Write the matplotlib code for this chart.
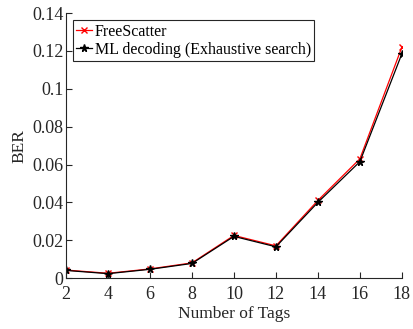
import matplotlib
matplotlib.use("Agg")
import matplotlib.pyplot as plt

num_tags = [2, 4, 6, 8, 10, 12, 14, 16, 18]
ber_freescatter = [0.0042, 0.0025, 0.0048, 0.0080, 0.0225, 0.0170, 0.0410, 0.0630, 0.1220]
ber_ml = [0.0040, 0.0023, 0.0046, 0.0077, 0.0220, 0.0165, 0.0400, 0.0615, 0.1185]
x_ticks = [2, 4, 6, 8, 10, 12, 14, 16, 18]
y_ticks = [0, 0.02, 0.04, 0.06, 0.08, 0.1, 0.12, 0.14]
y_tick_labels = ["0", "0.02", "0.04", "0.06", "0.08", "0.1", "0.12", "0.14"]

plt.rcParams["font.family"] = ["Liberation Serif", "DejaVu Serif"]
axis_color = "#262626"

fig = plt.figure(figsize=(4.13, 3.29), dpi=100)
ax = fig.add_axes([0.160, 0.155, 0.813, 0.805])

ax.plot(num_tags, ber_freescatter, color="red", marker="x", markersize=4,
        markeredgewidth=1.0, linewidth=0.9, label="FreeScatter")
ax.plot(num_tags, ber_ml, color="black", marker="*", markersize=5.5,
        linewidth=0.9, label="ML decoding (Exhaustive search)")

ax.set_xlim(2, 18)
ax.set_ylim(0, 0.14)
ax.set_xticks(x_ticks)
ax.set_yticks(y_ticks)
ax.set_yticklabels(y_tick_labels)

for side in ("top", "right"):
    ax.spines[side].set_visible(False)
for side in ("left", "bottom"):
    ax.spines[side].set_color(axis_color)
    ax.spines[side].set_linewidth(0.8)
ax.tick_params(direction="in", length=4, width=0.8, color=axis_color,
               labelsize=13, labelcolor=axis_color)
ax.tick_params(axis="x", pad=6)
ax.tick_params(axis="y", pad=2)

ax.set_xlabel("Number of Tags", fontsize=12.5, color=axis_color, labelpad=2)
ax.set_ylabel("BER", fontsize=12.5, color=axis_color, labelpad=3)

leg = ax.legend(loc="upper left", bbox_to_anchor=(0.01, 0.985), fontsize=11.5,
                frameon=True, fancybox=False, handlelength=1.0, handletextpad=0.2,
                borderpad=0.2, labelspacing=0.15, borderaxespad=0.2)
leg.get_frame().set_edgecolor(axis_color)
leg.get_frame().set_linewidth(0.8)
leg.get_frame().set_alpha(1.0)

fig.savefig("out.png", dpi=100)
